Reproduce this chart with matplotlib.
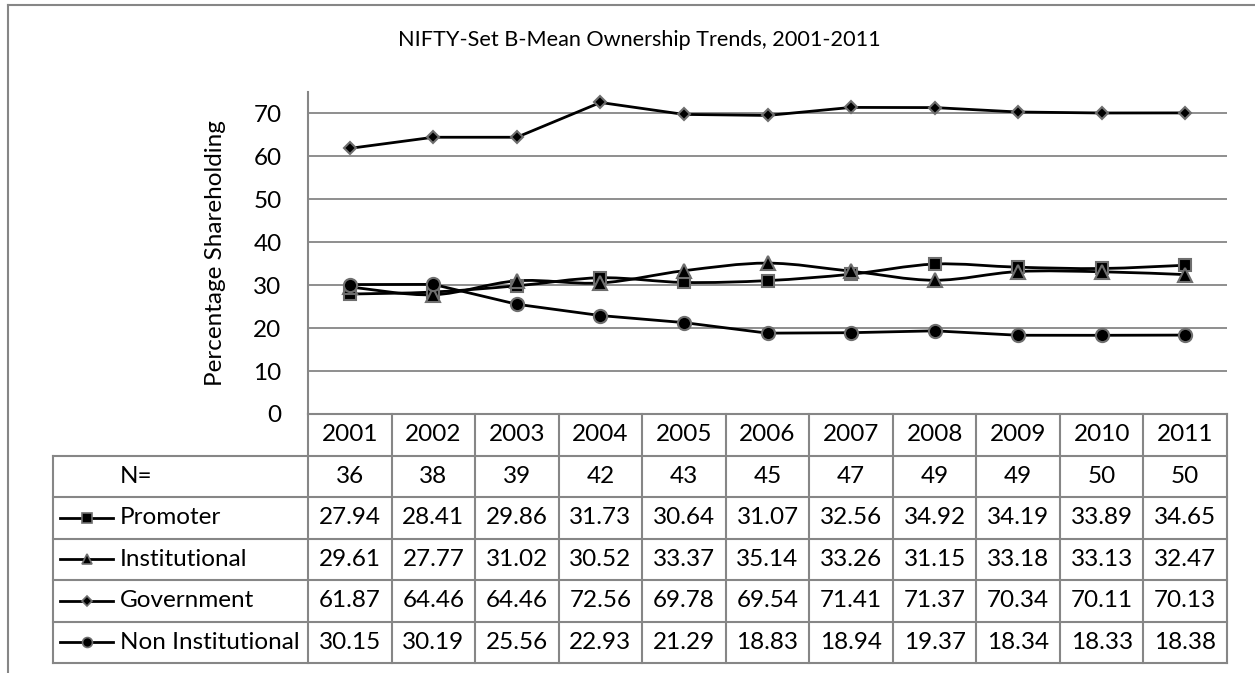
import matplotlib.pyplot as plt
from matplotlib.path import Path
from matplotlib.patches import PathPatch
from matplotlib.lines import Line2D
import numpy as np

plt.rcParams['font.family'] = ['Lato', 'DejaVu Sans']

years = [2001, 2002, 2003, 2004, 2005, 2006, 2007, 2008, 2009, 2010, 2011]
n_firms = [36, 38, 39, 42, 43, 45, 47, 49, 49, 50, 50]
promoter = [27.94, 28.41, 29.86, 31.73, 30.64, 31.07, 32.56, 34.92, 34.19, 33.89, 34.65]
institutional = [29.61, 27.77, 31.02, 30.52, 33.37, 35.14, 33.26, 31.15, 33.18, 33.13, 32.47]
government = [61.87, 64.46, 64.46, 72.56, 69.78, 69.54, 71.41, 71.37, 70.34, 70.11, 70.13]
non_institutional = [30.15, 30.19, 25.56, 22.93, 21.29, 18.83, 18.94, 19.37, 18.34, 18.33, 18.38]

series = [
    ("Promoter", promoter, "s", 9, True),
    ("Institutional", institutional, "^", 10, True),
    ("Government", government, "D", 6.5, False),
    ("Non Institutional", non_institutional, "o", 9.5, False),
]

W, H = 1255, 673
fig = plt.figure(figsize=(W / 100, H / 100), dpi=100)

def fx(px):
    return px / W

def fy(py):
    return 1 - py / H

grid_col = "#868686"
edge_col = "#6e6e6e"
fs = 17.5

# outer frame (cropped at right/bottom)
fig.add_artist(Line2D([fx(8), fx(8)], [fy(5), 0], color=grid_col, lw=1.5))
fig.add_artist(Line2D([fx(8), 1], [fy(5), fy(5)], color=grid_col, lw=1.5))

x0, x1 = 308, 1227
ytop, ybot = 92, 414
ax = fig.add_axes([fx(x0), fy(ybot), fx(x1) - fx(x0), (ybot - ytop) / H])
ax.set_xlim(-0.5, len(years) - 0.5)
ax.set_ylim(0, 75)
ax.set_yticks(range(0, 80, 10))
ax.set_xticks([])
ax.tick_params(axis='y', length=0, pad=19, labelsize=fs)
for s in ['top', 'right', 'bottom']:
    ax.spines[s].set_visible(False)
ax.spines['left'].set_color(grid_col)
ax.spines['left'].set_linewidth(1.5)
for v in range(0, 80, 10):
    ax.axhline(v, color=grid_col, lw=1.3, zorder=1)
ax.set_ylabel("Percentage Shareholding", fontsize=fs, labelpad=20)

xs = np.arange(len(years))


def smooth_path(x, y):
    # Bezier segments (Catmull-Rom style, like spreadsheet "smoothed line")
    pts = np.column_stack([x, y]).astype(float)
    verts = [pts[0]]
    codes = [Path.MOVETO]
    n = len(pts)
    for i in range(n - 1):
        p0 = pts[max(i - 1, 0)]
        p1 = pts[i]
        p2 = pts[i + 1]
        p3 = pts[min(i + 2, n - 1)]
        c1 = p1 + (p2 - p0) / 6
        c2 = p2 - (p3 - p1) / 6
        verts += [c1, c2, p2]
        codes += [Path.CURVE4] * 3
    return Path(verts, codes)


for name, vals, mk, ms, smooth in series:
    if smooth:
        ax.add_patch(PathPatch(smooth_path(xs, vals), fill=False, color="black", lw=2, zorder=3))
        ax.plot(xs, vals, linestyle="none", marker=mk, ms=ms, mfc="black",
                mec=edge_col, mew=1.5, zorder=4, clip_on=False)
    else:
        ax.plot(xs, vals, color="black", lw=2, marker=mk, ms=ms, mfc="black",
                mec=edge_col, mew=1.5, zorder=4, clip_on=False)

fig.text(fx(639), fy(40), "NIFTY-Set B-Mean Ownership Trends, 2001-2011",
         ha="center", va="center", fontsize=15.6)

# data table below the plot
lab_left = 53
col_w = (x1 - x0) / len(years)
row_top = 414
row_h = (663 - 414) / 6
tax = fig.add_axes([0, 0, 1, 1], facecolor="none")
tax.set_xlim(0, W)
tax.set_ylim(H, 0)
tax.axis("off")

# horizontal lines
tax.plot([x0, x1], [row_top, row_top], color=grid_col, lw=1.5)
for r in range(1, 7):
    yy = row_top + r * row_h
    tax.plot([lab_left, x1], [yy, yy], color=grid_col, lw=1.5)
# vertical lines
tax.plot([lab_left, lab_left], [row_top + row_h, row_top + 6 * row_h], color=grid_col, lw=1.5)
for c in range(len(years) + 1):
    xx = x0 + c * col_w
    tax.plot([xx, xx], [row_top, row_top + 6 * row_h], color=grid_col, lw=1.5)

rows = [("N=", n_firms, None)] + [(name, vals, (mk, ms)) for name, vals, mk, ms, _ in series]
for c, yr in enumerate(years):
    tax.text(x0 + (c + 0.5) * col_w, row_top + 0.5 * row_h, str(yr),
             ha="center", va="center", fontsize=fs)
for r, (name, vals, key) in enumerate(rows, start=1):
    yc = row_top + (r + 0.5) * row_h
    tax.text(120, yc, name, ha="left", va="center", fontsize=fs)
    if key is not None:
        mk, ms = key
        tax.plot([60, 86.5, 113], [yc, yc, yc], color="black", lw=2,
                 marker=mk, markevery=[1], ms=ms * 0.75, mfc="black", mec=edge_col, mew=1.2)
    for c, v in enumerate(vals):
        txt = str(v) if isinstance(v, int) else f"{v:.2f}"
        tax.text(x0 + (c + 0.5) * col_w, yc, txt, ha="center", va="center", fontsize=fs)

fig.savefig("out.png", dpi=100)
